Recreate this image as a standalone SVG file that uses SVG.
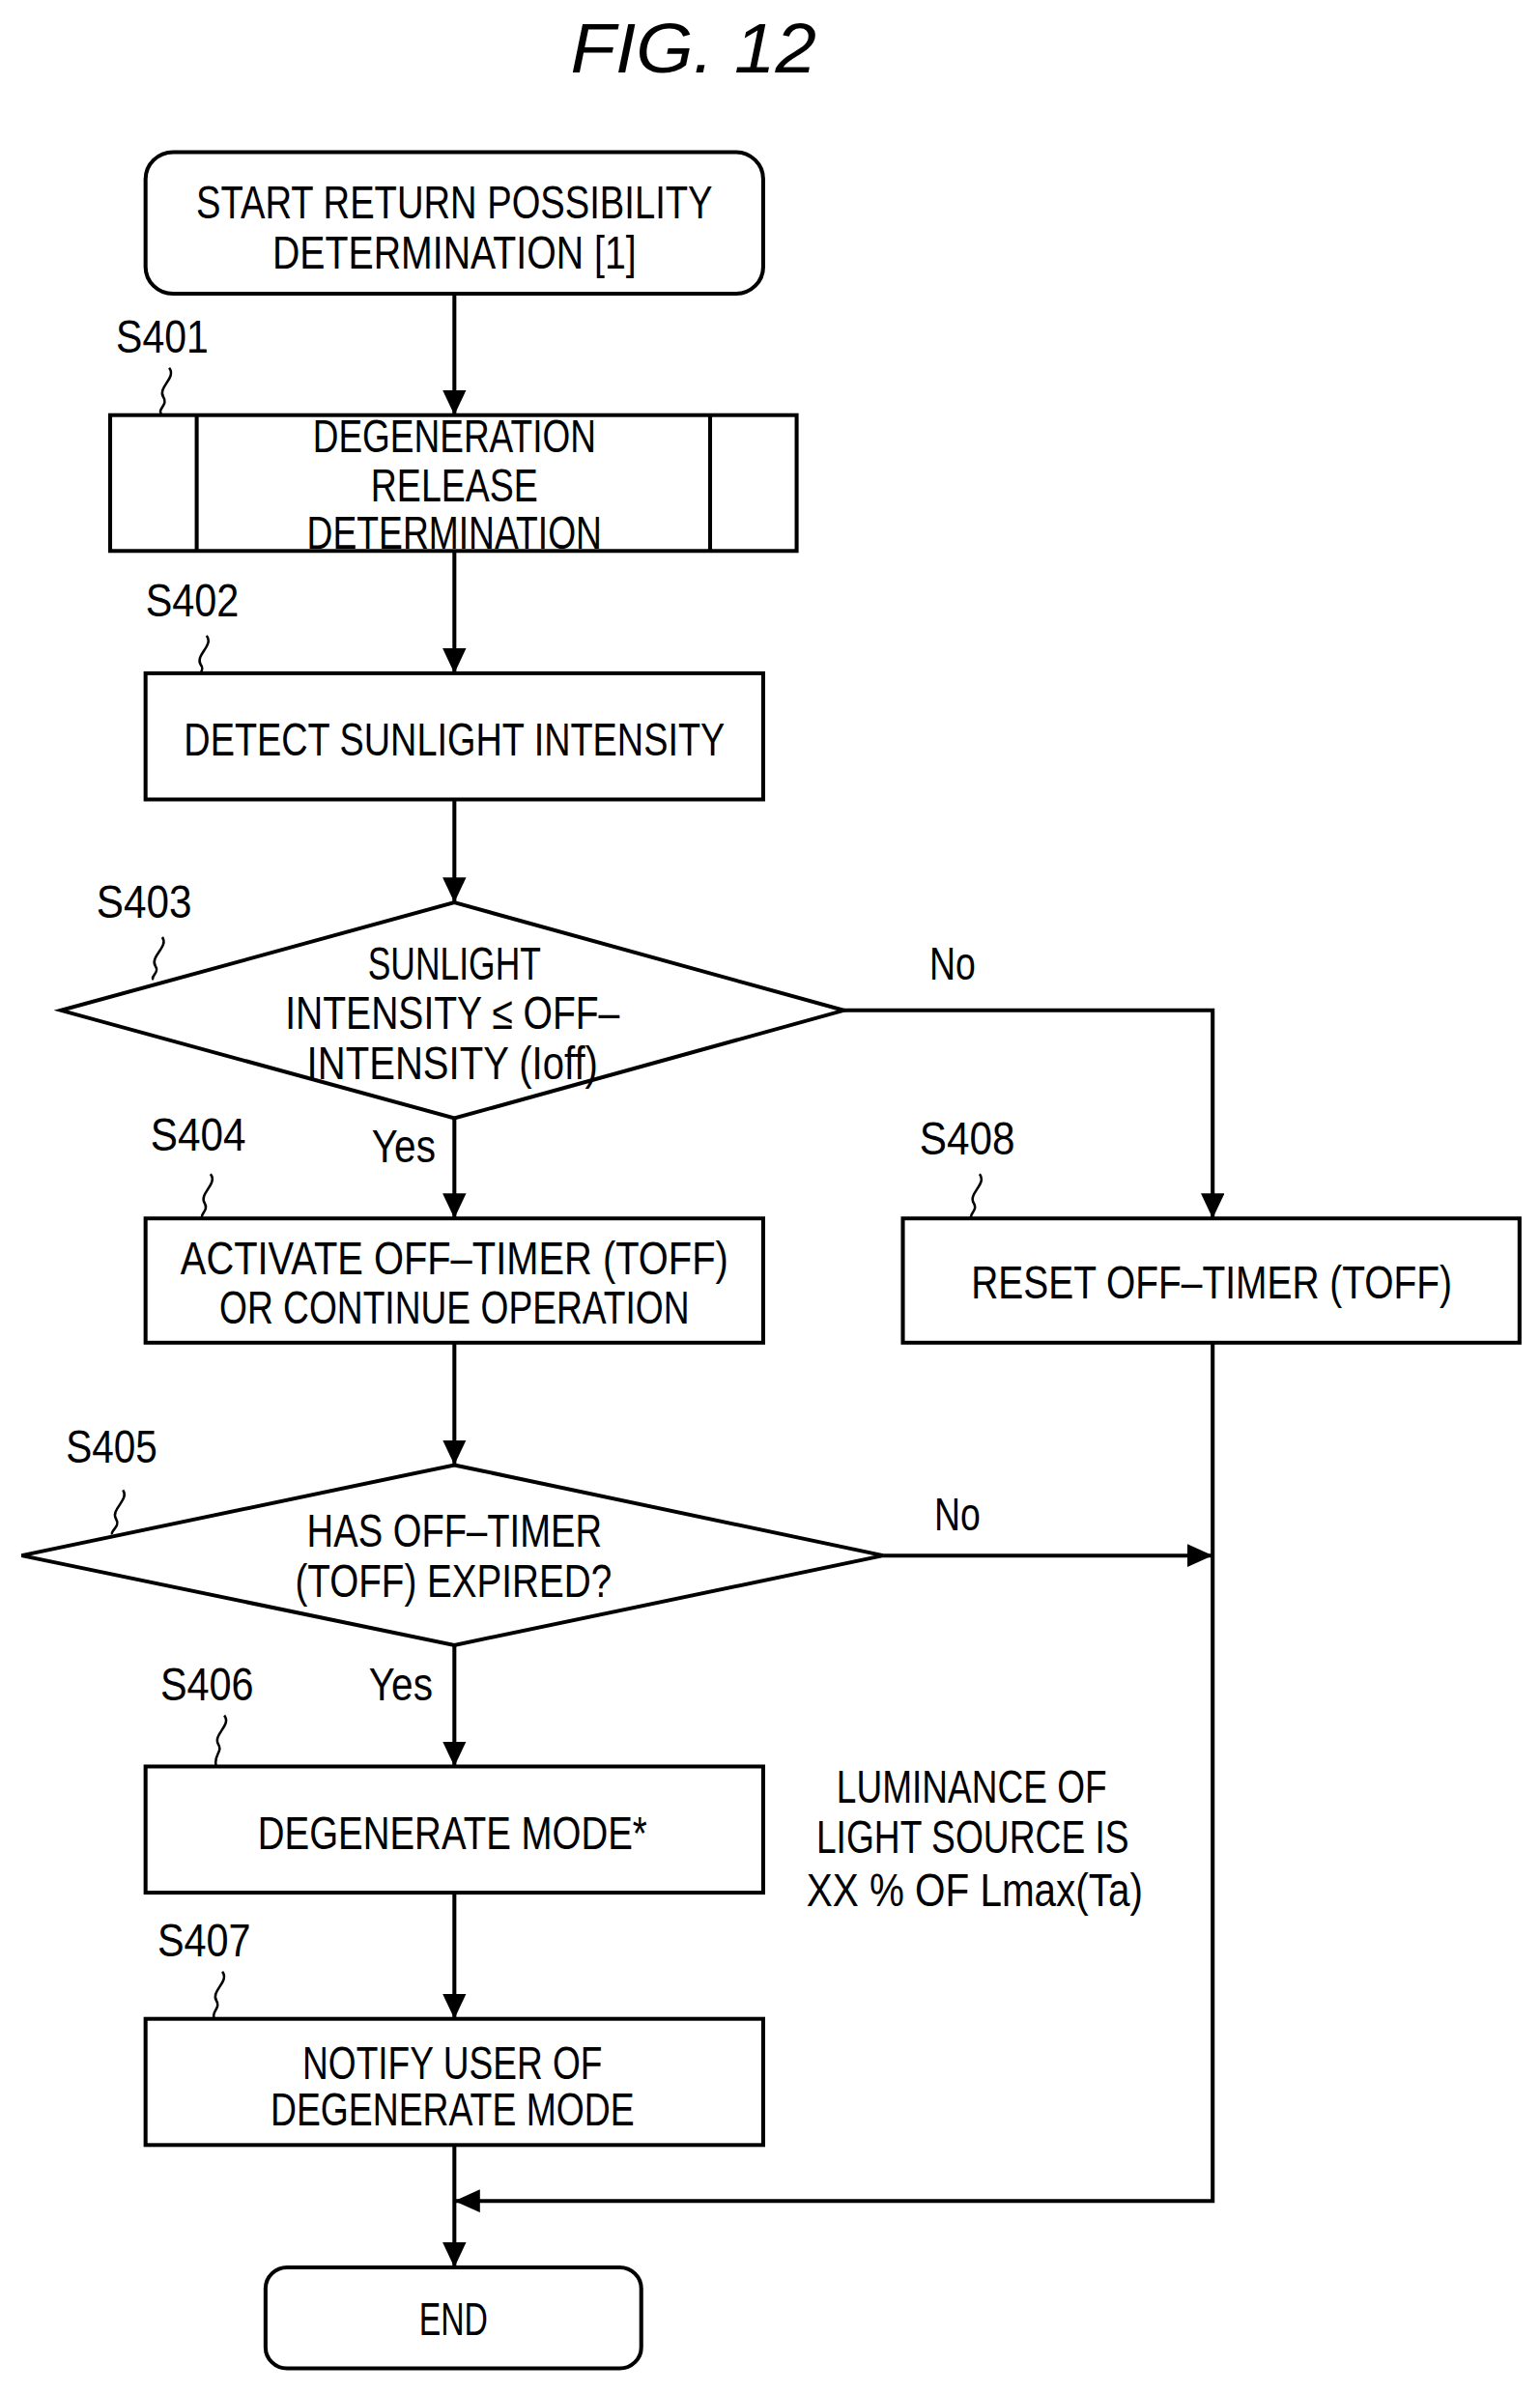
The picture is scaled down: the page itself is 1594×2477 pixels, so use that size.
<svg xmlns="http://www.w3.org/2000/svg" width="1594" height="2477" viewBox="0 0 1594 2477">
<style>
text{font-family:"Liberation Sans",Arial,sans-serif;font-size:48px;fill:#000;}
.c{text-anchor:middle}
.b{fill:#fff;stroke:#000;stroke-width:4}
.l{fill:none;stroke:#000;stroke-width:4}
.s{fill:none;stroke:#000;stroke-width:2.5}
</style>
<defs>
<marker id="ah" markerWidth="26" markerHeight="24" refX="26" refY="12" orient="auto" markerUnits="userSpaceOnUse"><path d="M0,0 L26,12 L0,24 z" fill="#000"/></marker>
</defs>
<g transform="translate(0,-3) scale(1.018 0.997)">
<text x="705" y="78" class="c" style="font-size:72px;font-style:italic" textLength="250" lengthAdjust="spacingAndGlyphs">FIG.  12</text>
<g id="connectors">
<line class="l" x1="462" y1="308" x2="462" y2="434" marker-end="url(#ah)"/>
<line class="l" x1="462" y1="575" x2="462" y2="702" marker-end="url(#ah)"/>
<line class="l" x1="462" y1="833" x2="462" y2="940" marker-end="url(#ah)"/>
<line class="l" x1="462" y1="1164" x2="462" y2="1268" marker-end="url(#ah)"/>
<polyline class="l" points="858,1052 1233,1052 1233,1268" marker-end="url(#ah)"/>
<line class="l" x1="462" y1="1397" x2="462" y2="1524" marker-end="url(#ah)"/>
<line class="l" x1="898" y1="1618" x2="1233" y2="1618" marker-end="url(#ah)"/>
<line class="l" x1="462" y1="1711" x2="462" y2="1837" marker-end="url(#ah)"/>
<line class="l" x1="462" y1="1968" x2="462" y2="2099" marker-end="url(#ah)"/>
<polyline class="l" points="1233,1397 1233,2288 462,2288" marker-end="url(#ah)"/>
<line class="l" x1="462" y1="2230" x2="462" y2="2357" marker-end="url(#ah)"/>
<text x="945" y="1020" textLength="47" lengthAdjust="spacingAndGlyphs">No</text>
<text x="378" y="1210" textLength="65" lengthAdjust="spacingAndGlyphs">Yes</text>
<text x="950" y="1592" textLength="47" lengthAdjust="spacingAndGlyphs">No</text>
<text x="375" y="1768" textLength="65" lengthAdjust="spacingAndGlyphs">Yes</text>
</g>
<g id="start">
<rect class="b" x="148" y="161" width="628" height="147" rx="28"/>
<text x="462" y="230" class="c" textLength="525" lengthAdjust="spacingAndGlyphs">START RETURN POSSIBILITY</text>
<text x="462" y="282" class="c" textLength="370" lengthAdjust="spacingAndGlyphs">DETERMINATION [1]</text>
</g>
<g id="S401">
<text x="118" y="369" textLength="94" lengthAdjust="spacingAndGlyphs">S401</text>
<path class="s" d="M172,385 C180,395 160,405 166,415 C172,424 158,428 165,434"/>
<rect class="b" x="112" y="434" width="698" height="141"/>
<line class="l" x1="200" y1="434" x2="200" y2="575"/>
<line class="l" x1="722" y1="434" x2="722" y2="575"/>
<text x="462" y="472" class="c" textLength="288" lengthAdjust="spacingAndGlyphs">DEGENERATION</text>
<text x="462" y="524" class="c" textLength="170" lengthAdjust="spacingAndGlyphs">RELEASE</text>
<text x="462" y="573" class="c" textLength="300" lengthAdjust="spacingAndGlyphs">DETERMINATION</text>
</g>
<g id="S402">
<text x="148" y="643" textLength="95" lengthAdjust="spacingAndGlyphs">S402</text>
<path class="s" d="M210,663 C218,673 198,683 204,693 C210,700 198,704 204,706"/>
<rect class="b" x="148" y="702" width="628" height="131"/>
<text x="462" y="787" class="c" textLength="550" lengthAdjust="spacingAndGlyphs">DETECT SUNLIGHT INTENSITY</text>
</g>
<g id="S403">
<text x="98" y="956" textLength="97" lengthAdjust="spacingAndGlyphs">S403</text>
<path class="s" d="M165,976 C172,986 152,996 158,1006 C163,1013 152,1017 156,1020"/>
<polygon class="b" points="462,940 858,1052 462,1164 62,1052"/>
<text x="462" y="1020" class="c" textLength="176" lengthAdjust="spacingAndGlyphs">SUNLIGHT</text>
<text x="460" y="1071" class="c" textLength="340" lengthAdjust="spacingAndGlyphs">INTENSITY ≤ OFF–</text>
<text x="460" y="1123" class="c" textLength="296" lengthAdjust="spacingAndGlyphs">INTENSITY (Ioff)</text>
</g>
<g id="S404">
<text x="153" y="1198" textLength="97" lengthAdjust="spacingAndGlyphs">S404</text>
<path class="s" d="M214,1222 C222,1232 202,1242 208,1252 C213,1260 202,1264 206,1268"/>
<rect class="b" x="148" y="1268" width="628" height="129"/>
<text x="462" y="1326" class="c" textLength="557" lengthAdjust="spacingAndGlyphs">ACTIVATE OFF–TIMER (TOFF)</text>
<text x="462" y="1377" class="c" textLength="478" lengthAdjust="spacingAndGlyphs">OR CONTINUE OPERATION</text>
</g>
<g id="S408">
<text x="935" y="1202" textLength="97" lengthAdjust="spacingAndGlyphs">S408</text>
<path class="s" d="M996,1222 C1004,1232 984,1242 990,1252 C995,1260 984,1264 988,1268"/>
<rect class="b" x="918" y="1268" width="627" height="129"/>
<text x="1232" y="1351" class="c" textLength="489" lengthAdjust="spacingAndGlyphs">RESET OFF–TIMER (TOFF)</text>
</g>
<g id="S405">
<text x="67" y="1522" textLength="93" lengthAdjust="spacingAndGlyphs">S405</text>
<path class="s" d="M125,1550 C132,1560 112,1570 118,1580 C123,1588 112,1592 114,1596"/>
<polygon class="b" points="462,1524 898,1618 462,1711 22,1618"/>
<text x="462" y="1609" class="c" textLength="300" lengthAdjust="spacingAndGlyphs">HAS OFF–TIMER</text>
<text x="461" y="1661" class="c" textLength="322" lengthAdjust="spacingAndGlyphs">(TOFF) EXPIRED?</text>
</g>
<g id="S406">
<text x="163" y="1768" textLength="95" lengthAdjust="spacingAndGlyphs">S406</text>
<path class="s" d="M228,1784 C236,1794 216,1804 222,1814 C227,1822 216,1826 220,1837"/>
<rect class="b" x="148" y="1837" width="628" height="131"/>
<text x="460" y="1923" class="c" textLength="396" lengthAdjust="spacingAndGlyphs">DEGENERATE MODE*</text>
</g>
<g id="note">
<text x="988" y="1875" class="c" textLength="275" lengthAdjust="spacingAndGlyphs">LUMINANCE OF</text>
<text x="989" y="1927" class="c" textLength="318" lengthAdjust="spacingAndGlyphs">LIGHT SOURCE IS</text>
<text x="991" y="1982" class="c" textLength="342" lengthAdjust="spacingAndGlyphs">XX % OF Lmax(Ta)</text>
</g>
<g id="S407">
<text x="160" y="2034" textLength="95" lengthAdjust="spacingAndGlyphs">S407</text>
<path class="s" d="M226,2050 C234,2060 214,2070 220,2080 C225,2088 214,2092 218,2099"/>
<rect class="b" x="148" y="2099" width="628" height="131"/>
<text x="460" y="2161" class="c" textLength="305" lengthAdjust="spacingAndGlyphs">NOTIFY USER OF</text>
<text x="460" y="2210" class="c" textLength="370" lengthAdjust="spacingAndGlyphs">DEGENERATE MODE</text>
</g>
<g id="end">
<rect class="b" x="270" y="2357" width="382" height="105" rx="22"/>
<text x="461" y="2427" class="c" textLength="70" lengthAdjust="spacingAndGlyphs">END</text>
</g>
</g>
</svg>
